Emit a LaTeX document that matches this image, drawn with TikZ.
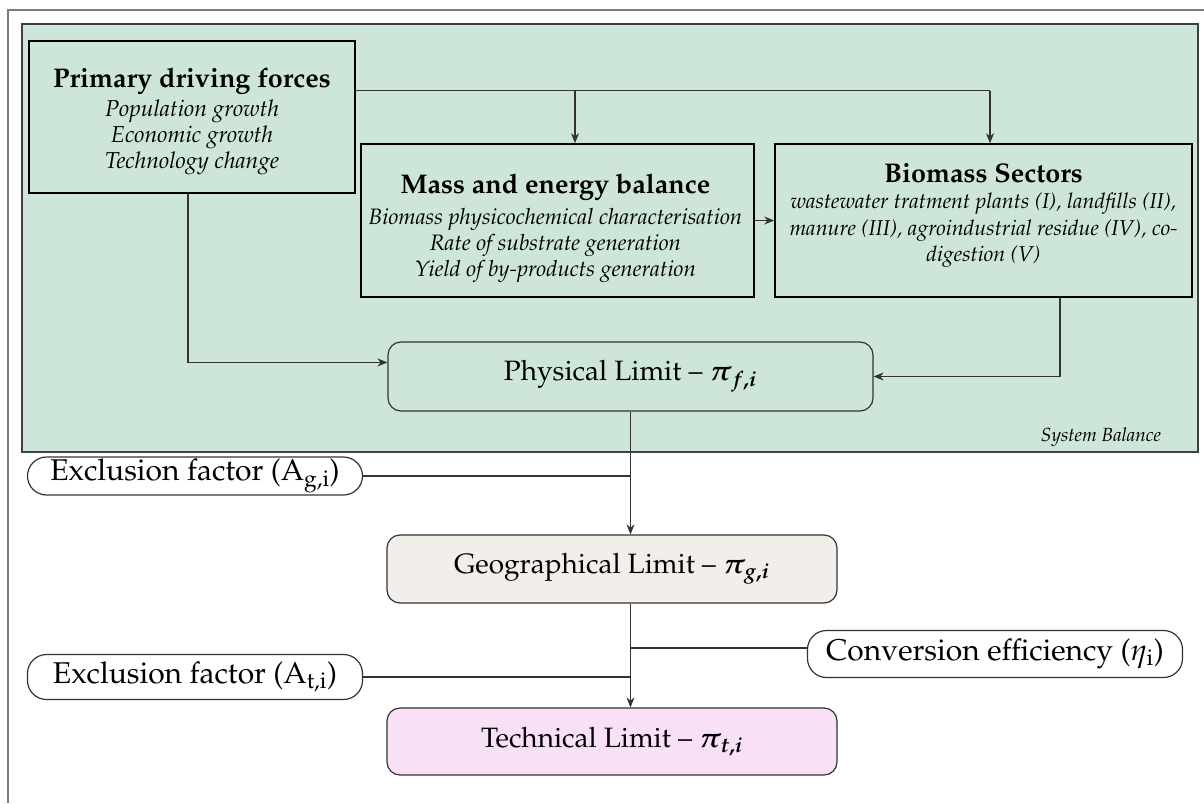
\documentclass[tikz,border=0pt]{standalone}
\usepackage[T1]{fontenc}
\usepackage{mathpazo}
\usepackage{bm}
\usetikzlibrary{arrows.meta,calc}

\definecolor{sysgreen}{HTML}{CEE6D9}
\definecolor{geofill}{HTML}{F2EEEA}
\definecolor{techfill}{HTML}{F8E1F6}
\definecolor{framegray}{HTML}{7A7A7A}

\tikzset{
  block/.style={draw=black, line width=1.6pt, fill=sysgreen, inner sep=0pt},
  blocktext/.style={align=center, inner sep=0pt,
    font=\itshape\fontsize{23}{26}\selectfont},
  limitbox/.style={draw=black!80, line width=1.2pt, rounded corners=13pt,
    inner sep=0pt, font=\fontsize{28}{32}\selectfont},
  pill/.style={draw=black!80, line width=1.2pt, fill=white, rounded corners=19pt,
    inner sep=0pt, font=\fontsize{30}{34}\selectfont},
  conn/.style={draw=black!80, line width=1.2pt},
  flow/.style={conn, -{Stealth[length=10pt,width=8pt]}},
}
\newcommand{\blocktitle}[1]{{\upshape\bfseries\fontsize{27}{30}\selectfont #1}}

\begin{document}
\begin{tikzpicture}[x=1pt,y=-1pt]
\useasboundingbox (0,0) rectangle (1204,803);

% outer frame and system-balance area
\draw[framegray, line width=1.6pt] (8,803) -- (8,10) -- (1204,10);
\draw[fill=sysgreen, draw=black!75, line width=1.2pt] (22,24) rectangle (1198,452);
\node[font=\itshape\fontsize{19}{22}\selectfont] (sysbal) at (1101,437) {System Balance};

% upper blocks
\node[block, minimum width=326pt, minimum height=152pt] (prim) at (192,117) {};
\node[block, minimum width=393pt, minimum height=153pt] (mass) at (557.5,220.5) {};
\node[block, minimum width=417pt, minimum height=153pt] (sect) at (983.5,220.5) {};

\node[blocktext] (primtxt) at ($(prim.center)+(0,4)$)
  {\blocktitle{Primary driving forces}\\[3pt]
   Population growth\\Economic growth\\Technology change};
\node[blocktext, font=\itshape\fontsize{22.3}{26}\selectfont] (masstxt) at ($(mass.center)+(-2,8)$)
  {\blocktitle{Mass and energy balance}\\[5pt]
   Biomass physicochemical characterisation\\Rate of substrate generation\\Yield of by-products generation};
\node[blocktext, font=\itshape\fontsize{21.5}{26.5}\selectfont] (secttxt) at ($(sect.center)+(0,-5)$)
  {\blocktitle{Biomass Sectors}\\[0pt]
   wastewater tratment plants (I), landfills (II),\\manure (III), agroindustrial residue (IV), co-\\digestion (V)};

% limit boxes
\node[limitbox, fill=sysgreen, minimum width=485pt, minimum height=69pt] (phys) at (630.5,376.5)
  {Physical Limit -- $\bm{\pi_{f,i}}$};
\node[limitbox, fill=geofill, minimum width=450pt, minimum height=68pt] (geo) at (612,569)
  {Geographical Limit -- $\bm{\pi_{g,i}}$};
\node[limitbox, fill=techfill, minimum width=450pt, minimum height=67pt] (tech) at (612,741.5)
  {Technical Limit -- $\bm{\pi_{t,i}}$};

% factor pills
\node[pill, minimum width=335pt, minimum height=38pt] (exg) at (195,476)
  {Exclusion factor (A\textsubscript{g,i})};
\node[pill, minimum width=375pt, minimum height=47pt] (conv) at (995,654)
  {Conversion efficiency ($\eta_{\mathrm{i}}$)};
\node[pill, minimum width=335pt, minimum height=45pt] (ext) at (195,677)
  {Exclusion factor (A\textsubscript{t,i})};

% junction points
\coordinate (top) at ($(prim.north east)!0.33!(prim.south east)$);
\coordinate (jmass) at (575,0);
\coordinate (jsect) at (990,0);
\coordinate (jprim) at (188,0);
\coordinate (jsecb) at (1060,0);
\coordinate (convin) at ($(conv.west)+(0,-6)$);

% connectors
\draw[conn] (top) -- (top -| jsect);
\draw[flow] (top -| jsect) -- (sect.north -| jsect);
\draw[flow] (top -| jmass) -- (mass.north -| jmass);
\draw[flow] (mass.east) -- (sect.west);
\draw[flow] (prim.south -| jprim) |- ($(phys.north west)!0.3!(phys.south west)$);
\draw[flow] (sect.south -| jsecb) |- (phys.east);
\draw[flow] (phys.south) -- (geo.north -| phys.south);
\draw[conn] (exg.east) -- (exg.east -| phys.south);
\draw[flow] (geo.south -| phys.south) -- (tech.north -| phys.south);
\draw[conn] (convin) -- (convin -| phys.south);
\draw[conn] (ext.east) -- (ext.east -| phys.south);
\end{tikzpicture}
\end{document}
